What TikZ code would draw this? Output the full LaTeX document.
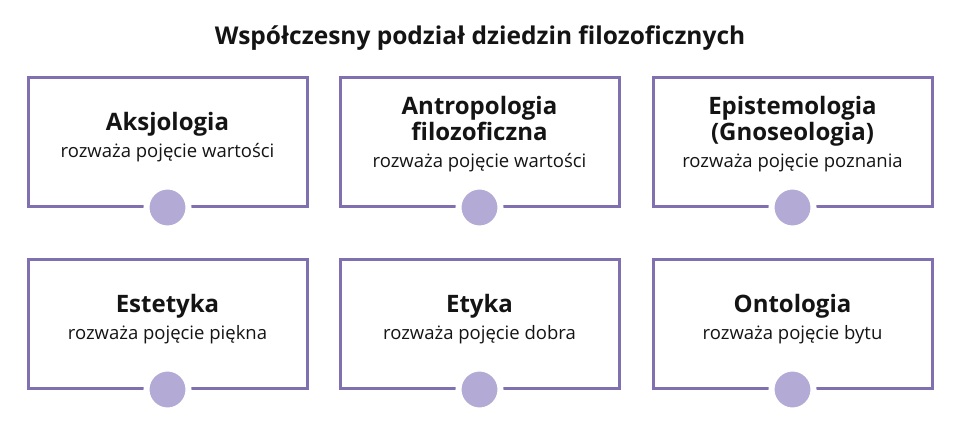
\documentclass[tikz,border=0pt]{standalone}
\usepackage{fontspec}
\setmainfont{Open Sans}
\usepackage{tikz}
\usetikzlibrary{positioning}
\definecolor{frame}{HTML}{8170B0}
\definecolor{knobfill}{HTML}{B3AAD6}
\definecolor{ink}{HTML}{141414}

\begin{document}
\begin{tikzpicture}[x=1pt,y=-1pt,
field/.style = {
  draw=frame, line width=3pt, minimum width=279pt, minimum height=129pt, inner sep=0
},
knob/.style = {
  circle, fill=knobfill, draw=white, line width=6pt, minimum size=42pt, inner sep=0
},
note/.style = {
  align=center, text=ink, inner sep=0, font=\fontsize{18.5}{26}\selectfont
},
head/.style = {
  text=ink, inner sep=0, font=\fontsize{24.5}{28}\selectfont\bfseries
}
]
\useasboundingbox (0,0) rectangle (960,436);

\node [head] (title) at (480,38) {Współczesny podział dziedzin filozoficznych};

% first row
\node [field] (aksjo) at (167.5,141.5) {};
\node [field] (antro) at (479.5,141.5) {};
\node [field] (episte) at (792.5,141.5) {};
% second row
\node [field] (estet) at (167.5,323.5) {};
\node [field] (etyka) at (479.5,323.5) {};
\node [field] (onto) at (792.5,323.5) {};

\node [note] (aksjo-t) at ([yshift=4pt]aksjo.center)
  {{\fontsize{24}{26}\selectfont\bfseries Aksjologia}\\[1pt]rozważa pojęcie wartości};
\node [note] (antro-t) at ([yshift=7pt]antro.center)
  {{\fontsize{24}{26}\selectfont\bfseries Antropologia}\\{\fontsize{24}{26}\selectfont\bfseries filozoficzna}\\[1pt]rozważa pojęcie wartości};
\node [note] (episte-t) at ([yshift=7pt]episte.center)
  {{\fontsize{24}{26}\selectfont\bfseries Epistemologia}\\{\fontsize{24}{26}\selectfont\bfseries (Gnoseologia)}\\[1pt]rozważa pojęcie poznania};
\node [note] (estet-t) at ([yshift=4pt]estet.center)
  {{\fontsize{24}{26}\selectfont\bfseries Estetyka}\\[1pt]rozważa pojęcie piękna};
\node [note] (etyka-t) at ([yshift=4pt]etyka.center)
  {{\fontsize{24}{26}\selectfont\bfseries Etyka}\\[1pt]rozważa pojęcie dobra};
\node [note] (onto-t) at ([yshift=4pt]onto.center)
  {{\fontsize{24}{26}\selectfont\bfseries Ontologia}\\[1pt]rozważa pojęcie bytu};

\node [knob] (aksjo-k) at (aksjo.south) {};
\node [knob] (antro-k) at (antro.south) {};
\node [knob] (episte-k) at (episte.south) {};
\node [knob] (estet-k) at (estet.south) {};
\node [knob] (etyka-k) at (etyka.south) {};
\node [knob] (onto-k) at (onto.south) {};

\end{tikzpicture}
\end{document}
